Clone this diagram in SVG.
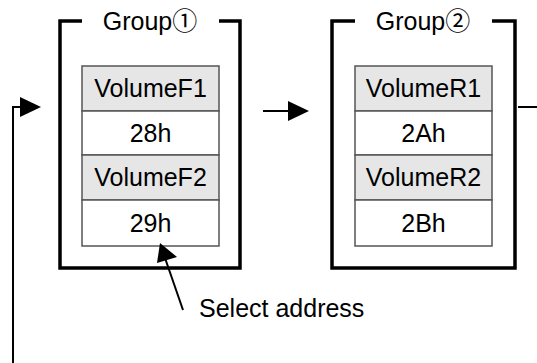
<svg xmlns="http://www.w3.org/2000/svg" width="537" height="363" viewBox="0 0 537 363">
<defs>
<style>
text{font-family:"Liberation Sans","Noto Sans CJK JP",Arial,sans-serif;font-size:25px;fill:#000;text-anchor:middle}
.frame{fill:none;stroke:#000;stroke-width:3.5}
.name{fill:#e6e6e6;stroke:#555;stroke-width:1.5}
.val{fill:#fff;stroke:#555;stroke-width:1.5}
.ln{fill:none;stroke:#000;stroke-width:2}
</style>
</defs>
<g id="group1">
<path class="frame" d="M82,21 H60 V268 H240 V21 H219"/>
<text x="150" y="30">Group①</text>
</g>
<g id="volF1"><rect class="name" x="82" y="66" width="137" height="45"/><text x="150.5" y="97">VolumeF1</text></g>
<g id="addr28"><rect class="val" x="82" y="111" width="137" height="44"/><text x="150.5" y="142">28h</text></g>
<g id="volF2"><rect class="name" x="82" y="155" width="137" height="45"/><text x="150.5" y="186">VolumeF2</text></g>
<g id="addr29"><rect class="val" x="82" y="200" width="137" height="46"/><text x="150.5" y="232">29h</text></g>
<g id="group2">
<path class="frame" d="M355,21 H332 V268 H515 V21 H492"/>
<text x="423" y="30">Group②</text>
</g>
<g id="volR1"><rect class="name" x="355" y="66" width="137" height="45"/><text x="423.5" y="97">VolumeR1</text></g>
<g id="addr2A"><rect class="val" x="355" y="111" width="137" height="44"/><text x="423.5" y="142">2Ah</text></g>
<g id="volR2"><rect class="name" x="355" y="155" width="137" height="45"/><text x="423.5" y="186">VolumeR2</text></g>
<g id="addr2B"><rect class="val" x="355" y="200" width="137" height="46"/><text x="423.5" y="232">2Bh</text></g>
<g id="label"><text x="199" y="317" style="text-anchor:start">Select address</text></g>
<g id="connectors">
<path class="ln" d="M13,363 V107 H21"/>
<polygon points="20,97 41,107 20,117"/>
<path class="ln" d="M263,111 H290"/>
<polygon points="288,101 309,111 288,121"/>
<path class="ln" d="M518,107 H537"/>
<path class="ln" d="M183,310 L165,258"/>
<polygon points="160,243 177,257 157,263"/>
</g>
</svg>
